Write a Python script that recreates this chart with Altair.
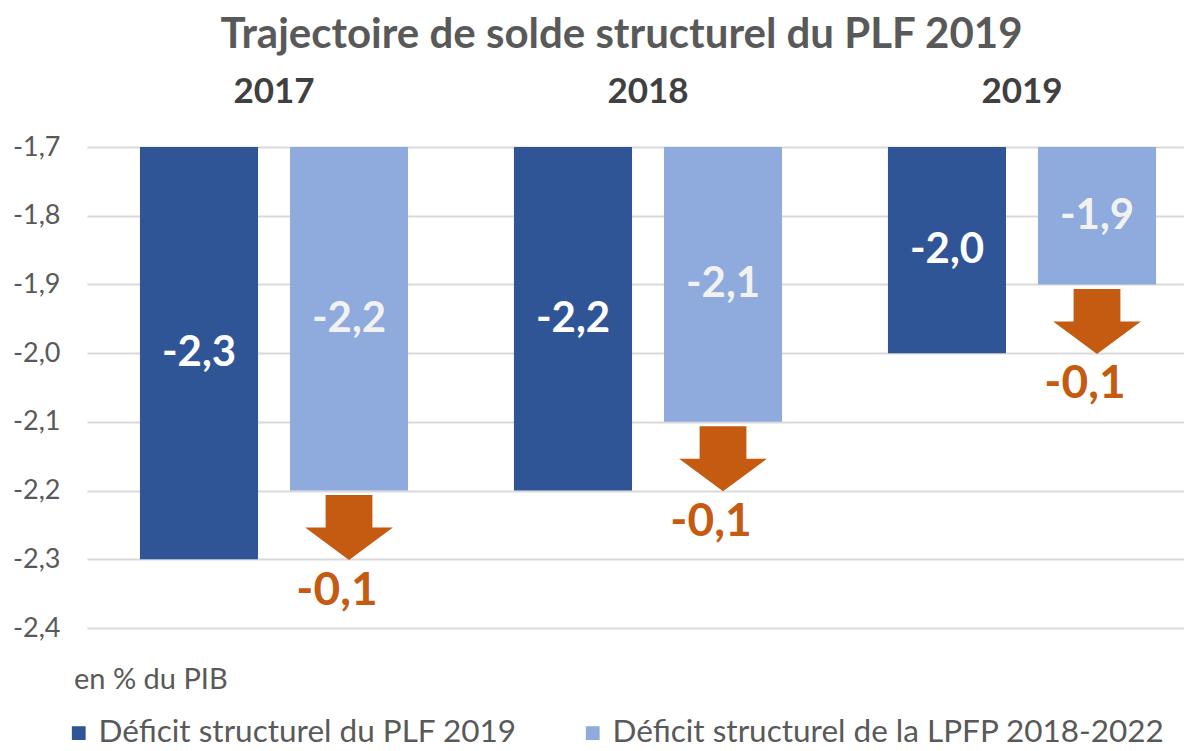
import altair as alt
import pandas as pd

years = ["2017", "2018", "2019"]
plf = [-2.3, -2.2, -2.0]
lpfp = [-2.2, -2.1, -1.9]
s_plf = "Déficit structurel du PLF 2019"
s_lpfp = "Déficit structurel de la LPFP 2018-2022"
y_ticks = [-1.7, -1.8, -1.9, -2.0, -2.1, -2.2, -2.3, -2.4]
top_val = -1.7

FONT = "Lato"
GRAY = "#595959"
DARK = "#2F5597"
LIGHT = "#8FAADC"
ORANGE = "#C55A11"

rows = []
for i, yr in enumerate(years):
    rows.append({"year": yr, "series": s_plf, "value": plf[i], "gap": round(plf[i] - lpfp[i], 1)})
    rows.append({"year": yr, "series": s_lpfp, "value": lpfp[i], "gap": round(plf[i] - lpfp[i], 1)})
df = pd.DataFrame(rows)


def fr(field):
    return "replace(replace(format(%s, '.1f'), '.', ','), '\u2212', '-')" % field


x_enc = alt.X("year:N", scale=alt.Scale(domain=years, range=[0, 1122], paddingInner=0, paddingOuter=0),
              axis=alt.Axis(orient="top", title=None, labelAngle=0, labelFontSize=35, labelFontWeight="bold",
                            labelColor="#404040", labelPadding=38, ticks=False, domain=False, labelFont=FONT))
xo_enc = alt.XOffset("series:N", scale=alt.Scale(domain=[s_plf, s_lpfp], paddingInner=0.213, paddingOuter=0.353))
y_scale = alt.Scale(domain=[-2.4, -1.7], nice=False, zero=False)

base = alt.Chart(df)

bars = base.mark_bar().encode(
    x=x_enc,
    xOffset=xo_enc,
    y=alt.Y("value:Q", scale=y_scale,
            axis=alt.Axis(values=y_ticks, labelExpr=fr("datum.value"), title=None, labelFontSize=27,
                          labelColor=GRAY, labelPadding=27, ticks=False, domain=False,
                          gridColor="#D9D9D9", gridWidth=2, labelFont=FONT)),
    y2=alt.datum(top_val),
    color=alt.Color("series:N", scale=alt.Scale(domain=[s_plf, s_lpfp], range=[DARK, LIGHT]),
                    legend=alt.Legend(title=None, orient="none", legendX=-24, legendY=570,
                                      direction="horizontal", symbolType="square", symbolSize=190,
                                      symbolStrokeWidth=0, labelFontSize=31.5, labelColor=GRAY,
                                      labelFont=FONT, labelLimit=800, columnPadding=60, labelOffset=4)),
)

bar_text = base.transform_calculate(
    mid="(datum.value + %f) / 2" % top_val,
    lab=fr("datum.value"),
).mark_text(fontSize=42, fontWeight="bold", font=FONT, baseline="middle").encode(
    x=alt.X("year:N"),
    xOffset=alt.XOffset("series:N"),
    y=alt.Y("mid:Q"),
    text="lab:N",
    color=alt.when(alt.datum.series == s_plf).then(alt.value("#FFFFFF")).otherwise(alt.value("#F2F2F2")),
)

arrow_path = "M-0.72,-1L0.72,-1L0.72,0L1.35,0L0,1L-1.35,0L-0.72,0Z"
arrows = base.transform_filter(alt.datum.series == s_lpfp).mark_point(
    shape=arrow_path, filled=True, size=4225, color=ORANGE, strokeWidth=0, opacity=1, yOffset=37, xOffset=-4
).encode(
    x=alt.X("year:N"),
    xOffset=alt.XOffset("series:N"),
    y=alt.Y("value:Q"),
)

arrow_text = base.transform_filter(alt.datum.series == s_lpfp).transform_calculate(
    lab=fr("datum.gap")
).mark_text(fontSize=46, fontWeight="bold", font=FONT, color=ORANGE, baseline="middle", dy=100, dx=-12).encode(
    x=alt.X("year:N"),
    xOffset=alt.XOffset("series:N"),
    y=alt.Y("value:Q"),
    text="lab:N",
)

note = alt.Chart(pd.DataFrame({"t": ["en % du PIB"]})).mark_text(
    align="left", baseline="middle", fontSize=29, font=FONT, color=GRAY
).encode(x=alt.value(-13), y=alt.value(533), text="t:N")

chart = alt.layer(bars, bar_text, arrows, arrow_text, note).properties(
    width=1097, height=481,
    title=alt.Title("Trajectoire de solde structurel du PLF 2019", fontSize=42, fontWeight="bold",
                    color=GRAY, font=FONT, offset=17, dx=-14),
    autosize=alt.AutoSizeParams(type="none"),
    padding={"left": 79, "top": 139, "right": 0, "bottom": 123},
).configure_view(stroke=None)

chart.save("out.html", embed_options={"renderer": "svg", "actions": False})
